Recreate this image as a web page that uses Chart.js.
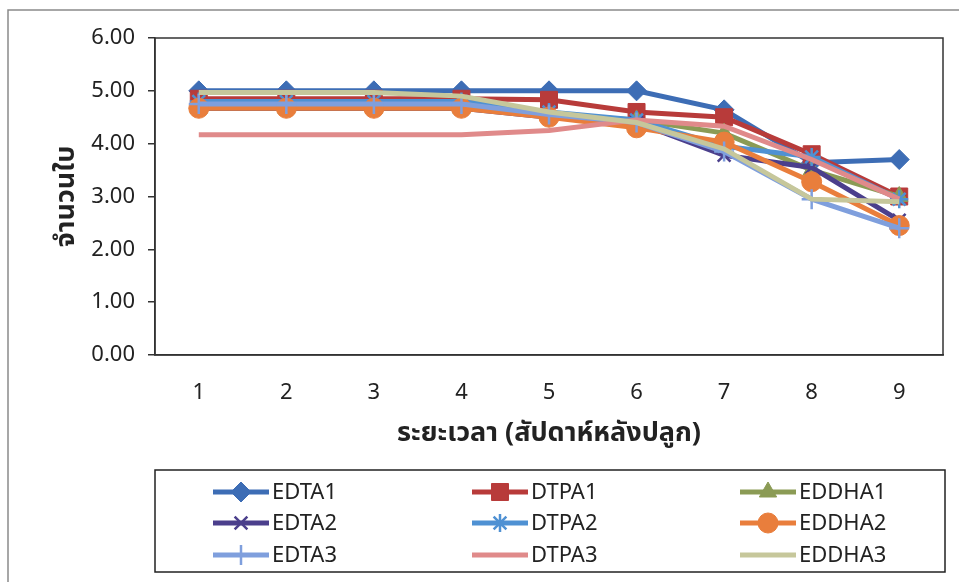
<!DOCTYPE html>
<html>
<head>
<meta charset="utf-8">
<script src="https://cdn.jsdelivr.net/npm/chart.js@4/dist/chart.umd.min.js"></script>
<style>
  html, body { margin: 0; padding: 0; background: #fff; }
  #wrap { width: 959px; height: 582px; position: relative; }
</style>
</head>
<body>
<div id="wrap"><canvas id="c" width="959" height="582"></canvas></div>
<script>
// Weeks after planting
const weeks = ['1', '2', '3', '4', '5', '6', '7', '8', '9'];

// Leaf count per treatment
const EDTA1  = [5.00, 5.00, 5.00, 5.00, 5.00, 5.00, 4.64, 3.64, 3.70];
const DTPA1  = [4.85, 4.85, 4.85, 4.85, 4.83, 4.60, 4.50, 3.80, 3.00];
const EDDHA1 = [4.67, 4.67, 4.67, 4.67, 4.55, 4.45, 4.20, 3.50, 3.00];
const EDTA2  = [4.67, 4.67, 4.67, 4.67, 4.50, 4.40, 3.78, 3.55, 2.55];
const DTPA2  = [4.80, 4.80, 4.80, 4.80, 4.60, 4.45, 3.95, 3.75, 2.95];
const EDDHA2 = [4.67, 4.67, 4.67, 4.67, 4.50, 4.30, 4.03, 3.28, 2.45];
const EDTA3  = [4.75, 4.75, 4.75, 4.75, 4.55, 4.40, 3.85, 2.95, 2.40];
const DTPA3  = [4.17, 4.17, 4.17, 4.17, 4.25, 4.45, 4.33, 3.70, 2.95];
const EDDHA3 = [4.97, 4.97, 4.97, 4.90, 4.60, 4.40, 3.90, 2.95, 2.90];

const yTicks = [0, 1, 2, 3, 4, 5, 6];

const series = [
  { label: 'EDTA1',  data: EDTA1,  color: '#3d6db5', style: 'rectRot',  r: 10 },
  { label: 'DTPA1',  data: DTPA1,  color: '#b83b3a', style: 'rect',     r: 12 },
  { label: 'EDDHA1', data: EDDHA1, color: '#8b9b55', style: 'triangle', r: 10 },
  { label: 'EDTA2',  data: EDTA2,  color: '#4b3f8c', style: 'crossRot', r: 9 },
  { label: 'DTPA2',  data: DTPA2,  color: '#4f91d3', style: 'star',     r: 9 },
  { label: 'EDDHA2', data: EDDHA2, color: '#e97e3c', style: 'circle',   r: 10 },
  { label: 'EDTA3',  data: EDTA3,  color: '#7f9fdd', style: 'cross',    r: 10 },
  { label: 'DTPA3',  data: DTPA3,  color: '#e08a8a', style: false,      r: 0 },
  { label: 'EDDHA3', data: EDDHA3, color: '#c6c79b', style: false,      r: 0 }
];

const FONT = "'Noto Sans', 'Open Sans', sans-serif";
const THAI = "'Noto Sans Thai', 'Noto Sans', 'DejaVu Sans', sans-serif";

const datasets = series.map((s, i) => ({
  label: s.label,
  data: s.data,
  borderColor: s.color,
  backgroundColor: s.color,
  borderWidth: 5,
  pointStyle: s.style,
  pointRadius: s.r,
  pointHoverRadius: s.r,
  pointBorderWidth: (s.style === 'crossRot' || s.style === 'star' || s.style === 'cross') ? 2.5 : 1,
  pointBorderColor: s.color,
  pointBackgroundColor: s.color,
  tension: 0,
  order: series.length - i
}));

// Frame around the plot area, outer chart border and the 3-column legend
const decor = {
  id: 'decor',
  beforeDraw(chart) {
    const ctx = chart.ctx;
    ctx.save();
    ctx.fillStyle = '#fff';
    ctx.fillRect(0, 0, chart.width, chart.height);
    ctx.strokeStyle = '#8a8a8a';
    ctx.lineWidth = 1.5;
    ctx.beginPath();
    ctx.moveTo(8, chart.height);
    ctx.lineTo(8, 10);
    ctx.lineTo(chart.width, 10);
    ctx.stroke();
    ctx.restore();
  },
  afterDraw(chart) {
    const ctx = chart.ctx;
    const a = chart.chartArea;
    ctx.save();
    ctx.strokeStyle = '#333';
    ctx.lineWidth = 1.5;
    ctx.strokeRect(a.left, a.top, a.right - a.left, a.bottom - a.top);

    // legend box
    ctx.strokeStyle = '#222';
    ctx.lineWidth = 1.5;
    ctx.strokeRect(155, 470, 790, 102);

    const cols = [213, 472, 740];
    const rows = [492, 523, 555];
    ctx.font = '22px ' + FONT;
    ctx.textBaseline = 'middle';
    ctx.textAlign = 'left';
    chart.data.datasets.forEach((ds, i) => {
      const x0 = cols[i % 3];
      const y = rows[Math.floor(i / 3)];
      ctx.strokeStyle = ds.borderColor;
      ctx.lineWidth = 5;
      ctx.beginPath();
      ctx.moveTo(x0, y);
      ctx.lineTo(x0 + 56, y);
      ctx.stroke();
      if (ds.pointStyle) {
        ctx.fillStyle = ds.backgroundColor;
        ctx.strokeStyle = ds.borderColor;
        ctx.lineWidth = ds.pointBorderWidth;
        Chart.helpers.drawPoint(ctx, {
          pointStyle: ds.pointStyle,
          radius: ds.pointRadius,
          rotation: 0,
          borderWidth: ds.pointBorderWidth
        }, x0 + 28, y);
      }
      ctx.fillStyle = '#222';
      ctx.fillText(ds.label, x0 + 59, y + 1);
    });
    ctx.restore();
  }
};

new Chart(document.getElementById('c'), {
  type: 'line',
  data: { labels: weeks, datasets },
  options: {
    responsive: false,
    animation: false,
    events: [],
    layout: { padding: { left: 0, top: 38, right: 16, bottom: 0 } },
    plugins: { legend: { display: false }, tooltip: { enabled: false } },
    scales: {
      x: {
        offset: true,
        grid: { display: false },
        border: { display: true, color: '#333', width: 1.5 },
        ticks: { color: '#222', font: { family: FONT, size: 22 }, padding: 17 },
        title: {
          display: true,
          text: 'ระยะเวลา (สัปดาห์หลังปลูก)',
          color: '#222',
          font: { family: THAI, size: 27, weight: 'bold' },
          padding: { top: 0, bottom: 130 }
        },
        afterFit(scale) { scale.height = 227; }
      },
      y: {
        min: 0,
        max: 6,
        afterBuildTicks(scale) { scale.ticks = yTicks.map(v => ({ value: v })); },
        grid: {
          display: true,
          drawOnChartArea: false,
          drawTicks: true,
          tickLength: 7,
          color: '#333',
          lineWidth: 1.5
        },
        border: { display: true, color: '#333', width: 1.5 },
        ticks: {
          color: '#222',
          font: { family: FONT, size: 22 },
          padding: 13,
          callback: v => Number(v).toFixed(2)
        },
        title: {
          display: true,
          text: 'จำนวนใบ',
          color: '#222',
          font: { family: THAI, size: 27, weight: 'bold' },
          padding: { top: 52, bottom: 0 }
        },
        afterFit(scale) { scale.width = 155; }
      }
    }
  },
  plugins: [decor]
});
</script>
</body>
</html>
